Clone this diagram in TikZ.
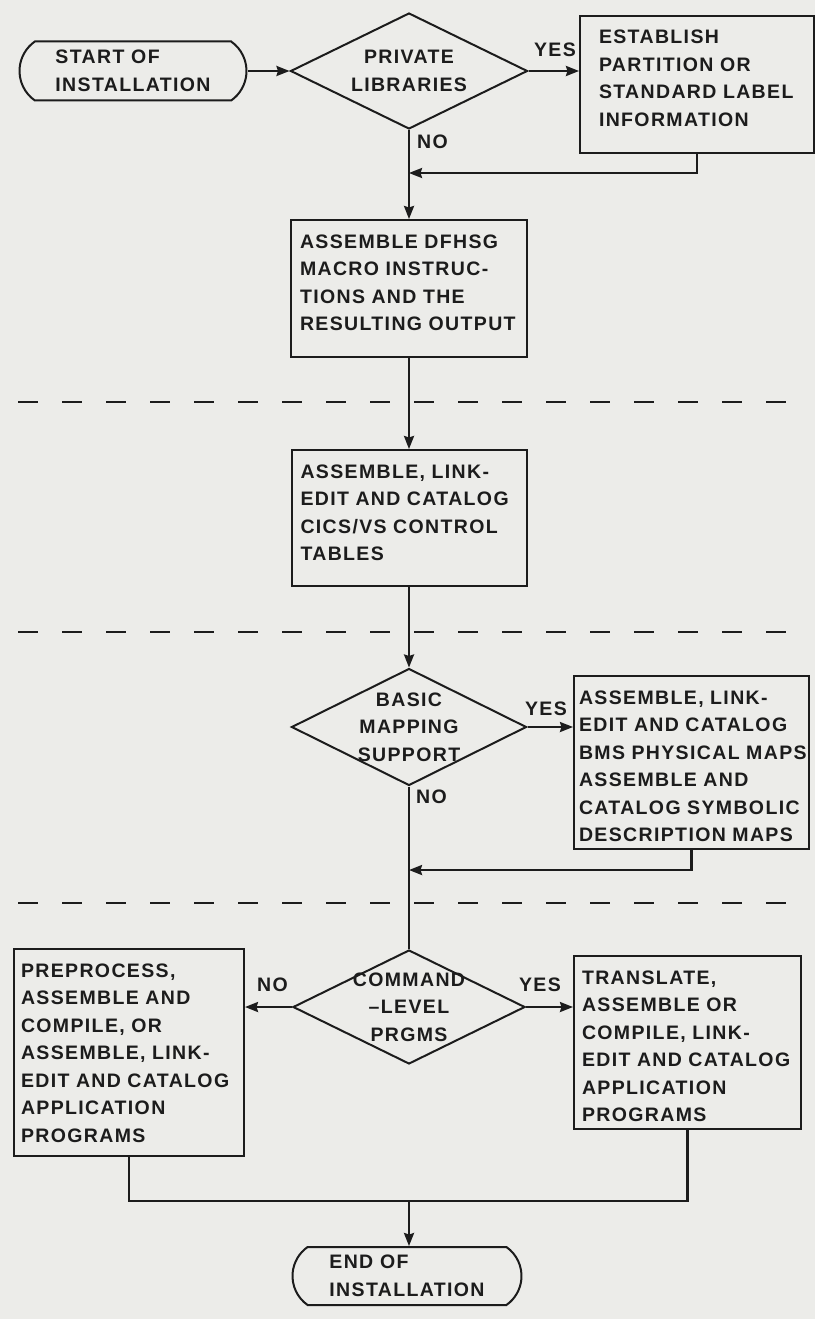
\documentclass[tikz,border=0pt]{standalone}
\usepackage{fontspec}
\usetikzlibrary{shapes.geometric, shapes.misc, arrows.meta, calc}
\newfontfamily\lettering[LetterSpace=7]{Liberation Sans}
\newcommand{\chartfont}{\lettering\bfseries\fontsize{19.5}{27.5}\selectfont}
\definecolor{paper}{RGB}{236,236,233}
\definecolor{ink}{RGB}{28,28,28}

\begin{document}
\begin{tikzpicture}[
    x=1pt, y=-1pt,
    every node/.style={text=ink},
    terminal/.style={rounded rectangle, rounded rectangle arc length=110, draw=ink, line width=2pt, align=left, inner sep=0pt, font=\chartfont},
    decision/.style={diamond, aspect=2, draw=ink, line width=2pt, inner sep=-16pt, align=center, font=\chartfont},
    procbox/.style={rectangle, draw=ink, line width=2pt, align=left, inner ysep=0pt, text height=28pt, font=\chartfont},
    answer/.style={inner sep=0pt, font=\chartfont},
    flow/.style={draw=ink, line width=2.2pt},
    arrow/.style={flow, -{Stealth[length=13pt, width=10pt, inset=1.5pt]}},
    separator/.style={draw=ink, line width=2pt, dash pattern=on 20pt off 24pt}
]

% Paper
\path[use as bounding box, fill=paper] (0,0) rectangle (815,1319);

% Terminals
\node[terminal, minimum width=227pt, minimum height=59pt] (start) at (133,71) {START OF\\INSTALLATION};
\node[terminal, minimum width=229pt, minimum height=58pt] (finish) at (407,1276) {END OF\\INSTALLATION};

% Decisions
\node[decision, minimum width=237pt, minimum height=116pt] (privlib) at (409,71) {PRIVATE\\LIBRARIES};
\node[decision, minimum width=235pt, minimum height=117pt] (mapsupport) at (409,727) {BASIC\\MAPPING\\SUPPORT};
\node[decision, minimum width=232pt, minimum height=114pt] (cmdlevel) at (409,1007) {COMMAND\\–LEVEL\\PRGMS};

% Processing steps
\node[procbox, anchor=north west, inner xsep=19pt, text width=196pt, text depth=109pt] (partition) at (579,15) {ESTABLISH\\PARTITION OR\\STANDARD~LABEL\\INFORMATION};
\node[procbox, anchor=north, inner xsep=9pt, text width=218pt, text depth=109pt] (dfhsg) at (409,219) {ASSEMBLE DFHSG\\MACRO INSTRUC-\\TIONS AND THE\\RESULTING~OUTPUT};
\node[procbox, anchor=north, inner xsep=9pt, text width=217pt, text depth=108pt] (tables) at (409,449) {ASSEMBLE, LINK-\\EDIT~AND~CATALOG\\CICS/VS CONTROL\\TABLES};
\node[procbox, anchor=north west, inner xsep=5pt, text width=225pt, text depth=145pt] (bmsmaps) at (573,675) {ASSEMBLE, LINK-\\EDIT~AND~CATALOG\\BMS~PHYSICAL~MAPS\\ASSEMBLE AND\\CATALOG~SYMBOLIC\\DESCRIPTION~MAPS};
\node[procbox, anchor=north west, inner xsep=7pt, text width=216pt, text depth=179pt] (preproc) at (13,948) {PREPROCESS,\\ASSEMBLE AND\\COMPILE, OR\\ASSEMBLE, LINK-\\EDIT~AND~CATALOG\\APPLICATION\\PROGRAMS};
\node[procbox, anchor=north west, inner xsep=8pt, text width=211pt, text depth=145pt] (translate) at (573,955) {TRANSLATE,\\ASSEMBLE OR\\COMPILE, LINK-\\EDIT~AND~CATALOG\\APPLICATION\\PROGRAMS};

% Merge points on the main line
\coordinate (merge1) at (409,173);
\coordinate (merge2) at (409,870);
\coordinate (merge3) at (409,1201);

% Phase separators
\draw[separator] (18,402) -- (790,402);
\draw[separator] (18,632) -- (790,632);
\draw[separator] (18,903) -- (790,903);

% Connectors
\draw[arrow] (start.east) -- (privlib.west);
\draw[arrow] (privlib.east) -- (privlib.east -| partition.west);
\draw[arrow] (privlib.south) -- (dfhsg.north);
\draw[arrow] (partition.south) |- (merge1);
\draw[arrow] (dfhsg.south) -- (tables.north);
\draw[arrow] (tables.south) -- (mapsupport.north);
\draw[arrow] (mapsupport.east) -- (mapsupport.east -| bmsmaps.west);
\draw[arrow] (bmsmaps.south) |- (merge2);
\draw[flow] (mapsupport.south) -- (cmdlevel.north);
\draw[arrow] (cmdlevel.west) -- (cmdlevel.west -| preproc.east);
\draw[arrow] (cmdlevel.east) -- (cmdlevel.east -| translate.west);
\draw[flow] (preproc.south) |- (merge3) -| (translate.south);
\draw[arrow] (merge3) -- (merge3 |- finish.north);

% Answers
\node[answer, anchor=base east] (yes1) at ($(privlib.east -| partition.west)+(-3,-14)$) {YES};
\node[answer, anchor=base west] (no1) at ($(privlib.south)+(8,19)$) {NO};
\node[answer, anchor=base east] (yes2) at ($(mapsupport.east -| bmsmaps.west)+(-6,-12)$) {YES};
\node[answer, anchor=base west] (no2) at ($(mapsupport.south)+(7,17)$) {NO};
\node[answer, anchor=base west] (no3) at ($(cmdlevel.west -| preproc.east)+(12,-16)$) {NO};
\node[answer, anchor=base east] (yes3) at ($(cmdlevel.east -| translate.west)+(-12,-16)$) {YES};
\end{tikzpicture}
\end{document}
